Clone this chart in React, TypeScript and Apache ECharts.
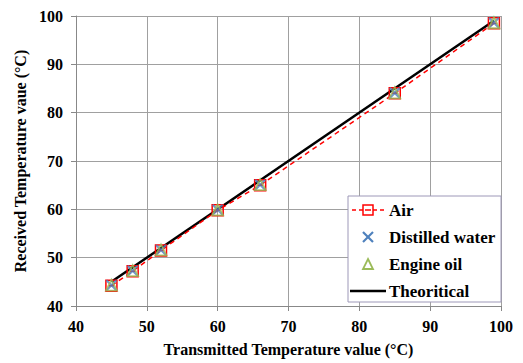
import React, { useEffect, useRef } from "react";
import * as echarts from "echarts";

const transmitted = [45, 48, 52, 60, 66, 85, 99];
const airValues = [44.2, 47.2, 51.5, 59.8, 65.0, 84.0, 98.5];
const waterValues = [44.3, 47.3, 51.6, 59.9, 65.1, 84.1, 98.6];
const oilValues = [44.3, 47.3, 51.6, 59.9, 65.1, 84.1, 98.6];
const theoreticalX = [45, 99];
const theoreticalY = [45, 99];
const legendNames = ["Air", "Distilled water", "Engine oil", "Theoritical"];
const xTicks = { min: 40, max: 100, interval: 10 };
const yTicks = { min: 40, max: 100, interval: 10 };

const SERIF = "Liberation Serif, Times New Roman, DejaVu Serif, serif";

export default function App() {
  const ref = useRef<HTMLDivElement>(null);
  useEffect(() => {
    if (!ref.current) return;
    const chart = echarts.init(ref.current, undefined, { renderer: "svg" });
    const pair = (xs: number[], ys: number[]) => xs.map((x, i) => [x, ys[i]]);
    const txt = { fontFamily: SERIF, fontWeight: "bold" as const, fontSize: 16, color: "#000" };

    // custom legend
    const lx = 348, ly = 196, lw = 153, lh = 106;
    const rowY = [210, 237, 264, 291];
    const iconCx = 368;
    const Z = 100;
    const legendEls: any[] = [
      { type: "rect", z: Z, shape: { x: lx, y: ly, width: lw, height: lh }, style: { fill: "#fff", stroke: "#9d98b8", lineWidth: 1 } },
    ];
    legendEls.push(
      { type: "line", z: Z + 1, shape: { x1: 352, y1: rowY[0], x2: 385, y2: rowY[0] }, style: { stroke: "#ff0000", lineWidth: 1.5, lineDash: [4, 3] } },
      { type: "rect", z: Z + 2, shape: { x: iconCx - 5, y: rowY[0] - 5, width: 10, height: 10 }, style: { fill: "#fff", stroke: "#ff0000", lineWidth: 1.5 } },
      { type: "line", z: Z + 3, shape: { x1: iconCx - 3, y1: rowY[0], x2: iconCx + 3, y2: rowY[0] }, style: { stroke: "#ff0000", lineWidth: 1.5 } },
    );
    legendEls.push(
      { type: "line", z: Z + 1, shape: { x1: iconCx - 5, y1: rowY[1] - 5, x2: iconCx + 5, y2: rowY[1] + 5 }, style: { stroke: "#4f81bd", lineWidth: 2.2 } },
      { type: "line", z: Z + 1, shape: { x1: iconCx + 5, y1: rowY[1] - 5, x2: iconCx - 5, y2: rowY[1] + 5 }, style: { stroke: "#4f81bd", lineWidth: 2.2 } },
    );
    legendEls.push(
      { type: "polygon", z: Z + 1, shape: { points: [[iconCx, rowY[2] - 5], [iconCx + 5, rowY[2] + 5], [iconCx - 5, rowY[2] + 5]] }, style: { fill: "none", stroke: "#9bbb59", lineWidth: 1.8 } },
    );
    legendEls.push(
      { type: "line", z: Z + 1, shape: { x1: 350, y1: rowY[3], x2: 386, y2: rowY[3] }, style: { stroke: "#000", lineWidth: 2.5 } },
    );
    legendNames.forEach((n, i) => {
      legendEls.push({
        type: "text",
        z: Z + 1,
        x: 389,
        y: rowY[i],
        style: { text: n, fontFamily: SERIF, fontWeight: "bold", fontSize: 17, fill: "#000", verticalAlign: "middle", align: "left" },
      });
    });

    chart.setOption({
      animation: false,
      backgroundColor: "#fff",
      grid: { left: 76, right: 22, top: 16, bottom: 57 },
      xAxis: {
        type: "value",
        min: xTicks.min,
        max: xTicks.max,
        interval: xTicks.interval,
        name: "Transmitted Temperature value (°C)",
        nameLocation: "middle",
        nameGap: 35,
        nameTextStyle: txt,
        axisLine: { show: true, lineStyle: { color: "#888", width: 1 } },
        axisTick: { show: true, length: 5, lineStyle: { color: "#888" } },
        axisLabel: { ...txt, margin: 12 },
        splitLine: { show: true, lineStyle: { color: "#a0a0a0", width: 1 } },
      },
      yAxis: {
        type: "value",
        min: yTicks.min,
        max: yTicks.max,
        interval: yTicks.interval,
        name: "Received Temperature vaue (°C)",
        nameLocation: "middle",
        nameGap: 47,
        nameTextStyle: txt,
        axisLine: { show: true, lineStyle: { color: "#888", width: 1 } },
        axisTick: { show: true, length: 5, lineStyle: { color: "#888" } },
        axisLabel: { ...txt, margin: 13 },
        splitLine: { show: true, lineStyle: { color: "#a0a0a0", width: 1 } },
      },
      graphic: legendEls,
      series: [
        {
          name: "Theoritical",
          type: "line",
          data: pair(theoreticalX, theoreticalY),
          symbol: "none",
          lineStyle: { color: "#000", width: 2.5 },
          itemStyle: { color: "#000" },
          z: 2,
        },
        {
          name: "Air",
          type: "line",
          data: pair(transmitted, airValues),
          symbol: "path://M0,0 L10,0 L10,10 L0,10 Z M2.5,5 L7.5,5",
          symbolSize: 11,
          lineStyle: { color: "#ff0000", width: 1.5, type: [5, 4] },
          itemStyle: { color: "transparent", borderColor: "#ff0000", borderWidth: 1.5 },
          z: 3,
        },
        {
          name: "Distilled water",
          type: "scatter",
          data: pair(transmitted, waterValues),
          symbol: "path://M0,0 L10,10 M10,0 L0,10",
          symbolSize: 10,
          itemStyle: { color: "transparent", borderColor: "#4f81bd", borderWidth: 2.2 },
          z: 4,
        },
        {
          name: "Engine oil",
          type: "scatter",
          data: pair(transmitted, oilValues),
          symbol: "triangle",
          symbolSize: 11,
          itemStyle: { color: "transparent", borderColor: "#9bbb59", borderWidth: 1.8 },
          z: 5,
        },
      ],
    });
    return () => chart.dispose();
  }, []);
  return <div ref={ref} style={{ width: 523, height: 363, position: "absolute", left: 0, top: 0 }} />;
}
